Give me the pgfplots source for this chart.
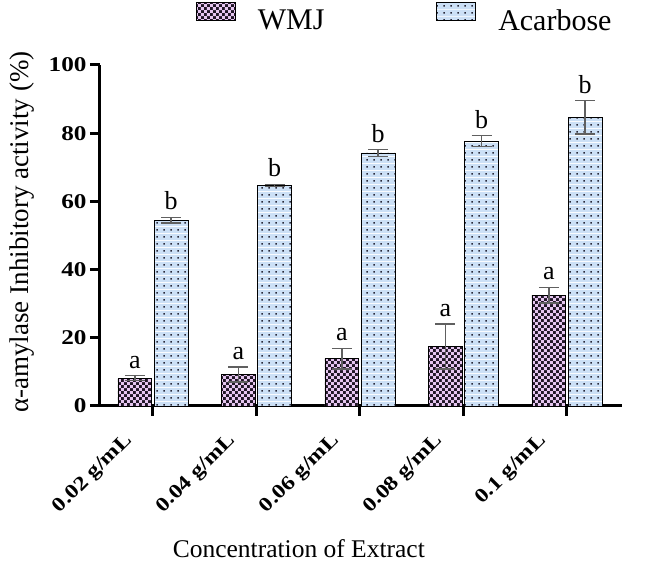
\documentclass[border=0pt]{standalone}
\usepackage{pgfplots}
\usepackage{pgfplotstable}
\pgfplotsset{compat=1.18}
\usepackage{fontspec}
\setmainfont{Liberation Serif}
\newfontfamily\tickfont[FakeStretch=1.2]{Liberation Serif}
\usetikzlibrary{patterns}
\definecolor{wmjpink}{HTML}{E6C6F0}
\definecolor{wmjdark}{HTML}{201626}
\definecolor{acablue}{HTML}{CCE0F6}
\definecolor{dotcol}{HTML}{2A2A3A}
\definecolor{errgray}{HTML}{606060}

\pgfdeclarepatterninherentlycolored{wmjcheck}{\pgfpointorigin}{\pgfpoint{6.4pt}{6.4pt}}{\pgfpoint{6.4pt}{6.4pt}}{%
 \pgfsetfillcolor{wmjdark}%
 \pgfpathrectangle{\pgfpointorigin}{\pgfpoint{6.4pt}{6.4pt}}\pgfusepath{fill}%
 \pgfsetfillcolor{wmjpink}%
 \pgfpathrectangle{\pgfpointorigin}{\pgfpoint{3.2pt}{3.2pt}}\pgfusepath{fill}%
 \pgfpathrectangle{\pgfpoint{3.2pt}{3.2pt}}{\pgfpoint{3.2pt}{3.2pt}}\pgfusepath{fill}%
}
\pgfdeclarepatterninherentlycolored{acadots}{\pgfpointorigin}{\pgfpoint{7pt}{7pt}}{\pgfpoint{7pt}{7pt}}{%
 \pgfsetfillcolor{acablue}%
 \pgfpathrectangle{\pgfpointorigin}{\pgfpoint{7pt}{7pt}}\pgfusepath{fill}%
 \pgfsetfillcolor{dotcol}%
 \pgfpathrectangle{\pgfpoint{2.7pt}{2.7pt}}{\pgfpoint{1.6pt}{1.6pt}}\pgfusepath{fill}%
}

% x: category index; WMJ bars sit left of each tick, Acarbose bars right of it
\pgfplotstableread{
x wmj wmjerr aca acaerr la lb
0 8.2 0.7 54.5 0.8 a b
1 9.3 2.2 64.7 0.3 a b
2 13.9 3.0 74.2 1.0 a b
3 17.4 6.6 77.7 1.6 a b
4 32.5 2.3 84.7 4.9 a b
}\datatable

\begin{document}
\begin{tikzpicture}
\begin{axis}[
 x=103.5pt, y=3.41pt,
 xmin=-0.512, xmax=4.53, ymin=0, ymax=100,
 axis x line=bottom, axis y line=left,
 axis line style={line width=3pt, -},
 xtick={0,1,2,3,4},
 xticklabels={0.02 g/mL,0.04 g/mL,0.06 g/mL,0.08 g/mL,0.1 g/mL},
 ytick={0,20,40,60,80,100},
 tick align=outside, major tick length=10pt,
 tick style={line width=3pt, black},
 /pgf/number format/assume math mode=true,
 xticklabel style={xshift=-30pt, yshift=-15pt, rotate=45, anchor=north east, inner sep=0pt,
   font=\tickfont\fontsize{20}{23}\selectfont\bfseries},
 yticklabel style={font=\tickfont\fontsize{21}{24}\selectfont\bfseries},
 xlabel={Concentration of Extract},
 ylabel={α-amylase Inhibitory activity (\%)},
 xlabel style={at={(axis description cs:0.381,-0.418)}, anchor=center, font=\fontsize{25.5}{28}\selectfont},
 ylabel style={at={(axis description cs:-0.149,0.51)}, anchor=center, font=\fontsize{27}{29}\selectfont},
 legend style={at={(axis description cs:0.584,1.19)}, anchor=north, draw=none, fill=none,
   legend columns=2, font=\fontsize{30}{32}\selectfont,
   /tikz/every odd column/.append style={column sep=20pt},
   /tikz/every even column/.append style={column sep=110pt}},
 legend image code/.code={\draw[#1] (0pt,0pt) rectangle (39pt,18pt);},
 nodes near coords style={font=\fontsize{26}{28}\selectfont, anchor=south, inner sep=0pt, yshift=7pt},
]
\addplot[ybar, bar width=0.328, bar shift=0pt, draw=black, line width=0.8pt, pattern=wmjcheck,
  error bars/.cd, y dir=both, y explicit,
  error bar style={errgray, line width=1.5pt},
  error mark options={errgray, line width=1.5pt, mark size=10pt, rotate=90}]
  table[x expr=\thisrow{x}-0.175, y=wmj, y error=wmjerr]{\datatable};
\addplot[ybar, bar width=0.328, bar shift=0pt, draw=black, line width=0.8pt, pattern=acadots,
  error bars/.cd, y dir=both, y explicit,
  error bar style={errgray, line width=1.5pt},
  error mark options={errgray, line width=1.5pt, mark size=10pt, rotate=90}]
  table[x expr=\thisrow{x}+0.175, y=aca, y error=acaerr]{\datatable};
\addplot[forget plot, draw=none, mark=none, nodes near coords, point meta=explicit symbolic]
  table[x expr=\thisrow{x}-0.175, y expr=\thisrow{wmj}+\thisrow{wmjerr}, meta=la]{\datatable};
\addplot[forget plot, draw=none, mark=none, nodes near coords, point meta=explicit symbolic]
  table[x expr=\thisrow{x}+0.175, y expr=\thisrow{aca}+\thisrow{acaerr}, meta=lb]{\datatable};
\legend{WMJ, Acarbose}
\end{axis}
\pgfresetboundingbox
\path (current axis.south west) ++(-100pt,-156pt) rectangle ++(657pt,562pt);
\end{tikzpicture}
\end{document}
